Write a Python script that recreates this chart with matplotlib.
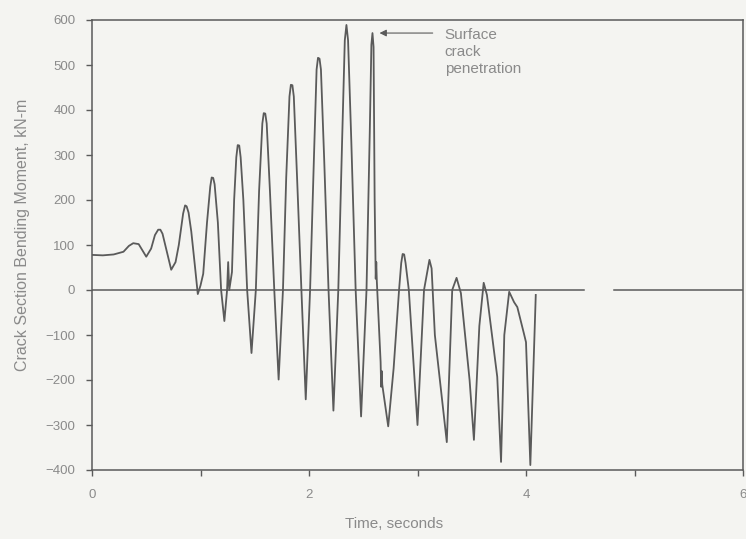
import numpy as np
import matplotlib
matplotlib.use("Agg")
import matplotlib.pyplot as plt

# bending moment trace, time in s and moment in kN-m
time_s = [0.00, 0.10, 0.20, 0.29, 0.34, 0.38, 0.43, 0.46, 0.50, 0.545,
          0.58, 0.61, 0.63, 0.65, 0.675, 0.73, 0.77, 0.80, 0.84, 0.858, 0.872, 0.89,
          0.915, 0.95, 0.975, 1.00, 1.025, 1.06, 1.09, 1.103, 1.117, 1.13, 1.16,
          1.19, 1.22, 1.245, 1.255, 1.265, 1.29, 1.31, 1.33, 1.343, 1.357, 1.37,
          1.395, 1.43, 1.47, 1.51, 1.54, 1.57, 1.583, 1.597, 1.61, 1.64, 1.68,
          1.72, 1.76, 1.79, 1.82, 1.833, 1.847, 1.86, 1.89, 1.93, 1.97, 2.01,
          2.045, 2.07, 2.083, 2.097, 2.11, 2.14, 2.18, 2.225, 2.27, 2.305, 2.33,
          2.345, 2.36, 2.39, 2.43, 2.48, 2.53, 2.56, 2.575, 2.585, 2.595,
          2.605, 2.615, 2.62, 2.625, 2.66, 2.665, 2.67, 2.675, 2.73, 2.78,
          2.83, 2.85, 2.863, 2.877, 2.89, 2.92, 3.00, 3.06, 3.11, 3.13, 3.16,
          3.27, 3.32, 3.36, 3.40, 3.48, 3.52, 3.57, 3.61, 3.64, 3.735,
          3.77, 3.80, 3.845, 3.89, 3.92, 3.98, 4.00, 4.04, 4.09]
moment = [78, 77, 79, 85, 98, 104, 102, 90, 74, 92,
          122, 134, 134, 125, 100, 45, 62, 100, 170, 188, 186, 172,
          130, 50, -9, 10, 36, 150, 230, 250, 249, 235, 150,
          0, -69, 0, 62, 0, 40, 200, 295, 322, 321, 295,
          200, 0, -140, 0, 220, 370, 393, 392, 370, 220, 0,
          -199, 0, 250, 430, 456, 455, 430, 250, 0, -243, 0,
          290, 490, 516, 514, 490, 290, 0, -268, 0, 330, 555,
          589, 555, 330, 0, -281, 0, 350, 545, 571, 540,
          200, 25, 62, 20, -160, -215, -180, -210, -303, -174,
          0, 60, 80, 79, 60, 0, -300, 0, 67, 48, -100,
          -338, 0, 27, -7, -200, -333, -80, 16, -11, -193,
          -382, -100, -4, -27, -38, -96, -116, -389, -11]

# zero reference line, drawn in two pieces
zero_t = [[0.0, 4.53], [4.81, 6.0]]

x_ticks = [0, 1, 2, 3, 4, 5, 6]
x_labels = ["0", "", "2", "", "4", "", "6"]
y_ticks = [-400, -300, -200, -100, 0, 100, 200, 300, 400, 500, 600]

ink = "#5a5a5a"
txt = "#8a8a8a"
bg = "#f4f4f1"
plt.rcParams["font.family"] = ["Liberation Sans", "DejaVu Sans"]

fig = plt.figure(figsize=(7.46, 5.39), dpi=100, facecolor=bg)
ax = fig.add_axes([92 / 746, 69 / 539, 651 / 746, 450 / 539], facecolor=bg)

for seg in zero_t:
    ax.plot(seg, [0, 0], color=ink, lw=1.1)
ax.plot(time_s, moment, color=ink, lw=1.3, solid_joinstyle="round")

ax.set_xlim(0, 6)
ax.set_ylim(-400, 600)
ax.set_xticks(x_ticks)
ax.set_xticklabels(x_labels)
ax.set_yticks(y_ticks)
ax.tick_params(axis="both", direction="out", length=4, width=1,
               color=ink, labelcolor=txt, labelsize=9.5)
ax.tick_params(axis="y", pad=8)
ax.tick_params(axis="x", pad=10)
for s in ax.spines.values():
    s.set_color(ink)
    s.set_linewidth(1.1)

ax.set_xlabel("Time, seconds", color=txt, fontsize=11)
ax.xaxis.set_label_coords(0.464, -0.105)
ax.set_ylabel("Crack Section Bending Moment, kN-m", color=txt, fontsize=11.5)
ax.yaxis.set_label_coords(-0.095, 0.522)

ax.annotate("", xy=(2.65, 571), xytext=(3.14, 571),
            arrowprops=dict(arrowstyle="-|>", color=ink, lw=0.8,
                            mutation_scale=10, shrinkA=0, shrinkB=0))
ax.text(3.25, 582, "Surface\ncrack\npenetration", color=txt, fontsize=11,
        va="top", ha="left", linespacing=1.25)

fig.savefig("out.png", dpi=100, facecolor=bg)
